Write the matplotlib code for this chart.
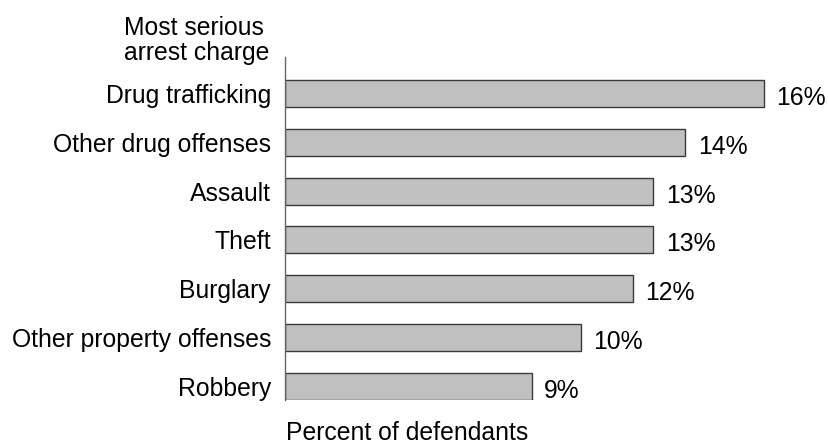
import matplotlib
matplotlib.use("Agg")
import matplotlib.pyplot as plt

categories = ["Drug trafficking", "Other drug offenses", "Assault", "Theft",
              "Burglary", "Other property offenses", "Robbery"]
values = [16.5, 13.8, 12.7, 12.7, 12.0, 10.2, 8.5]
value_labels = ["16%", "14%", "13%", "13%", "12%", "10%", "9%"]

plt.rcParams['font.family'] = ['Liberation Sans', 'DejaVu Sans']

W, H = 829, 446
FS = 17.8
fig = plt.figure(figsize=(W / 100, H / 100), dpi=100)

ax_left = 285 / W
ax_right = 1.0
ax_top = 1 - 57 / H
ax_bottom = 1 - 400 / H
ax = fig.add_axes([ax_left, ax_bottom, ax_right - ax_left, ax_top - ax_bottom])

ypos = list(range(len(categories)))
bh = 0.552
ax.barh(ypos, values, height=bh, color="#c0c0c0", edgecolor="#3a3a3a", linewidth=1.0)

ax.set_xlim(0, (W - 285) / 29.0)
ax.set_ylim(len(categories) - 1 + bh / 2, -0.746)

ax.set_yticks(ypos)
ax.set_yticklabels(categories, fontsize=FS)
ax.tick_params(axis='y', length=0, pad=10)
ax.set_xticks([])
for s in ["top", "right", "bottom"]:
    ax.spines[s].set_visible(False)
ax.spines["left"].set_color("#666666")
ax.spines["left"].set_linewidth(1.0)

for y, v, lab in zip(ypos, values, value_labels):
    ax.annotate(lab, xy=(v, y), xytext=(9, -8.2), textcoords="offset points",
                ha="left", va="baseline", fontsize=FS)

fig.text(124 / W, 1 - 35 / H, "Most serious", ha="left", va="baseline", fontsize=FS)
fig.text(124 / W, 1 - 60 / H, "arrest charge", ha="left", va="baseline", fontsize=FS)
fig.text(407 / W, 1 - 440 / H, "Percent of defendants", ha="center", va="baseline",
         fontsize=FS)

fig.savefig("out.png", dpi=100)
